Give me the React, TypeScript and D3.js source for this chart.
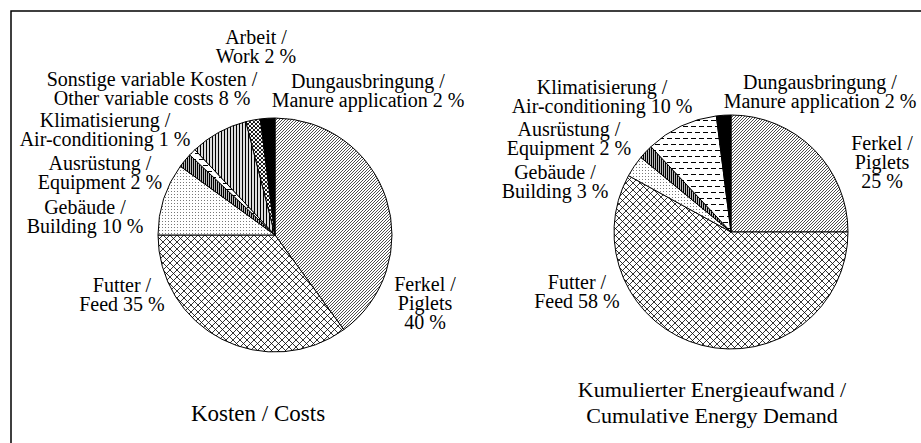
import React from 'react'
import * as d3 from 'd3'

// categories (German / English) and shares in percent
const categoriesDe = ['Ferkel', 'Futter', 'Gebäude', 'Ausrüstung', 'Klimatisierung', 'Sonstige variable Kosten', 'Arbeit', 'Dungausbringung']
const categoriesEn = ['Piglets', 'Feed', 'Building', 'Equipment', 'Air-conditioning', 'Other variable costs', 'Work', 'Manure application']

const costValues = [40, 35, 10, 2, 1, 8, 2, 2]
const energyCategories = ['Ferkel', 'Futter', 'Gebäude', 'Ausrüstung', 'Klimatisierung', 'Dungausbringung']
const energyValues = [25, 58, 3, 2, 10, 2]

const costTitle = ['Kosten / Costs']
const energyTitle = ['Kumulierter Energieaufwand /', 'Cumulative Energy Demand']

// label anchor: centre x, first baseline
const costLabelPos: Record<string, [number, number]> = {
    Ferkel: [425, 291],
    Futter: [122, 292],
    Gebäude: [85, 214],
    Ausrüstung: [100, 170],
    Klimatisierung: [105, 127],
    'Sonstige variable Kosten': [152, 86],
    Arbeit: [256, 44],
    Dungausbringung: [368, 88],
}
const energyLabelPos: Record<string, [number, number]> = {
    Ferkel: [882, 150],
    Futter: [577, 289],
    Gebäude: [555, 179],
    Ausrüstung: [569, 136],
    Klimatisierung: [602, 94],
    Dungausbringung: [820, 89],
}

const fills: Record<string, string> = {
    Ferkel: 'url(#p-diag)',
    Futter: 'url(#p-cross)',
    Gebäude: 'url(#p-dots)',
    Ausrüstung: 'url(#p-vdense)',
    Klimatisierung: 'url(#p-dash)',
    'Sonstige variable Kosten': 'url(#p-vert)',
    Arbeit: 'url(#p-check)',
    Dungausbringung: '#000',
}

const FONT = "'Liberation Serif', 'Times New Roman', 'DejaVu Serif', serif"
const R = 117
const LINE = 19

function labelLines(de: string, v: number) {
    const en = categoriesEn[categoriesDe.indexOf(de)]
    if (de === 'Ferkel') return [`${de} /`, en, `${v} %`]
    return [`${de} /`, `${en} ${v} %`]
}

interface PieProps {
    cats: string[]
    values: number[]
    cx: number
    cy: number
    pos: Record<string, [number, number]>
}

const Pie: React.FC<PieProps> = ({ cats, values, cx, cy, pos }) => {
    const data = cats.map((c, i) => ({ cat: c, value: values[i] }))
    const arcs = d3
        .pie<{ cat: string; value: number }>()
        .sort(null)
        .value((d) => d.value)
        .startAngle(0)
        .endAngle(2 * Math.PI)(data)
    const arc = d3.arc<d3.PieArcDatum<{ cat: string; value: number }>>().innerRadius(0).outerRadius(R)

    return (
        <g>
            <g transform={`translate(${cx},${cy})`}>
                {arcs.map((a) => (
                    <path key={a.data.cat} d={arc(a) ?? ''} fill={fills[a.data.cat]} stroke="#000" strokeWidth={1} />
                ))}
            </g>
            {arcs.map((a) => {
                const [x, y] = pos[a.data.cat]
                return (
                    <text key={'t' + a.data.cat} x={x} y={y} textAnchor="middle" style={{ fontFamily: FONT, fontSize: 20 }} fill="#000">
                        {labelLines(a.data.cat, a.data.value).map((l, i) => (
                            <tspan key={i} x={x} y={y + i * LINE}>
                                {l}
                            </tspan>
                        ))}
                    </text>
                )
            })}
        </g>
    )
}

export default function App() {
    return (
        <svg width={921} height={443} style={{ position: 'absolute', left: 0, top: 0, background: '#fff' }}>
            <defs>
                <pattern id="p-diag" width={3} height={3} patternUnits="userSpaceOnUse">
                    <rect width={3} height={3} fill="#fff" />
                    <path d="M-1,1 l2,-2 M0,3 l3,-3 M2,4 l2,-2" stroke="#000" strokeWidth={0.7} />
                </pattern>
                <pattern id="p-cross" width={7} height={7} patternUnits="userSpaceOnUse">
                    <rect width={7} height={7} fill="#fff" />
                    <path d="M0,0 L7,7 M7,0 L0,7" stroke="#000" strokeWidth={0.8} />
                </pattern>
                <pattern id="p-dots" width={3} height={3} patternUnits="userSpaceOnUse">
                    <rect width={3} height={3} fill="#fff" />
                    <rect x={1} y={1} width={1} height={1} fill="#777" />
                </pattern>
                <pattern id="p-vdense" width={2} height={2} patternUnits="userSpaceOnUse">
                    <rect width={2} height={2} fill="#bbb" />
                    <rect width={1} height={2} fill="#000" />
                </pattern>
                <pattern id="p-vert" width={3} height={3} patternUnits="userSpaceOnUse">
                    <rect width={3} height={3} fill="#ddd" />
                    <rect width={1} height={3} fill="#000" />
                </pattern>
                <pattern id="p-dash" width={8} height={12} patternUnits="userSpaceOnUse">
                    <rect width={8} height={12} fill="#fff" />
                    <rect x={0} y={2} width={5} height={1} fill="#000" />
                    <rect x={4} y={8} width={5} height={1} fill="#000" />
                    <rect x={-4} y={8} width={5} height={1} fill="#000" />
                </pattern>
                <pattern id="p-check" width={4} height={4} patternUnits="userSpaceOnUse">
                    <rect width={4} height={4} fill="#fff" />
                    <circle cx={1} cy={1} r={1.1} fill="#000" />
                    <circle cx={3} cy={3} r={1.1} fill="#000" />
                </pattern>
            </defs>

            <path d="M11,443 V11 H921" fill="none" stroke="#000" strokeWidth={1.5} />

            <Pie cats={categoriesDe} values={costValues} cx={275} cy={235} pos={costLabelPos} />
            <Pie cats={energyCategories} values={energyValues} cx={731} cy={232} pos={energyLabelPos} />

            <text x={258} y={421} textAnchor="middle" style={{ fontFamily: FONT, fontSize: 23 }}>
                {costTitle[0]}
            </text>
            <text x={712} y={397} textAnchor="middle" style={{ fontFamily: FONT, fontSize: 22 }}>
                {energyTitle.map((l, i) => (
                    <tspan key={i} x={712} y={397 + i * 26}>
                        {l}
                    </tspan>
                ))}
            </text>
        </svg>
    )
}
